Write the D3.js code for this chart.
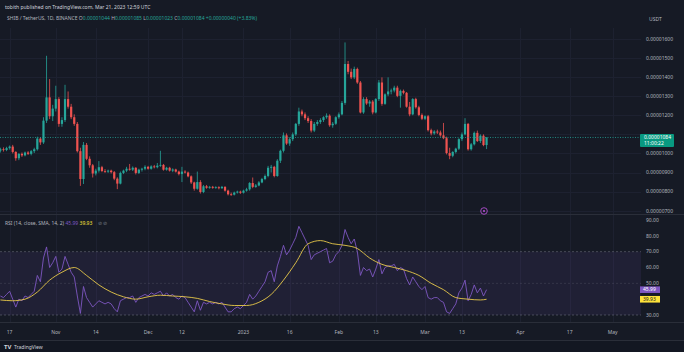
<!DOCTYPE html>
<html><head><meta charset="utf-8">
<script src="https://cdn.jsdelivr.net/npm/d3@7"></script>
<style>html,body{margin:0;padding:0;background:#161a25;}svg{display:block;font-family:"Noto Sans",Roboto,sans-serif;}</style>
</head><body><svg id="c" width="684" height="352"></svg>
<script>
// ---------- DATA (prices in units of 1e-6 USDT) ----------
const firstDay = Date.UTC(2022, 9, 14);
const open = [10.15,10.22,10.18,10.28,10.36,10.08,9.75,9.98,9.90,10.05,9.98,10.12,10.22,10.78,10.58,11.72,12.94,11.95,12.35,12.85,11.55,11.75,12.85,12.45,11.90,11.55,10.12,8.66,10.45,9.72,9.38,8.95,9.10,9.28,9.08,9.05,9.10,9.02,8.68,8.42,8.98,9.10,9.20,9.15,9.25,8.98,9.15,9.20,9.30,9.20,9.32,9.28,9.36,9.40,9.15,9.25,9.10,9.16,9.05,8.92,9.05,9.00,8.80,8.48,8.15,8.50,7.98,8.28,8.20,8.25,8.20,8.23,8.18,8.25,8.05,7.86,7.84,7.95,8.00,7.94,8.05,8.12,8.45,8.25,8.32,8.48,8.66,8.82,9.25,9.30,8.82,9.62,10.14,10.95,10.52,10.75,11.00,11.55,12.20,12.05,11.85,11.70,11.20,11.55,11.65,11.75,11.90,11.98,11.48,11.56,11.90,12.05,12.65,14.69,14.28,13.99,14.43,13.72,12.15,12.85,12.62,12.72,12.15,12.85,13.72,12.60,13.10,13.25,13.30,13.45,13.02,13.28,13.18,12.45,12.05,12.85,12.42,12.02,11.82,11.95,11.22,11.05,11.15,11.10,10.95,10.80,10.02,9.88,10.08,10.25,10.75,11.00,11.55,10.22,10.48,11.08,10.65,10.93,10.44];
const high = [10.30,10.32,10.35,10.42,10.45,10.12,10.02,10.05,10.10,10.12,10.18,10.30,10.88,10.85,11.90,15.12,13.90,12.55,13.55,12.95,11.90,13.60,13.25,12.60,12.05,11.65,10.30,10.60,10.55,9.85,9.45,9.20,9.60,9.35,9.18,9.15,9.15,9.08,8.75,9.05,9.15,9.30,9.45,9.32,9.28,9.20,9.25,9.38,9.35,9.38,9.40,9.50,10.14,9.45,9.30,9.30,9.22,9.20,9.10,9.30,9.12,9.05,8.85,8.52,9.05,8.60,8.35,8.35,8.30,8.30,8.28,8.28,8.30,8.28,8.10,7.95,8.00,8.05,8.05,8.10,8.20,8.50,8.74,8.40,8.55,8.72,8.90,9.35,9.40,9.35,9.70,10.20,11.10,11.05,10.85,11.10,11.60,12.40,12.30,12.15,11.95,11.80,11.65,11.75,11.85,11.95,12.10,12.05,11.65,11.95,12.15,12.75,15.82,14.85,14.45,14.55,14.50,13.80,12.95,12.95,12.80,12.80,12.90,13.85,13.99,13.15,13.99,13.40,13.55,13.55,13.35,13.35,13.22,12.70,12.90,12.92,12.50,12.10,12.00,12.02,11.30,11.22,11.25,11.20,11.60,10.88,10.30,10.12,10.30,10.80,11.10,11.85,11.60,10.55,11.15,11.20,11.00,11.00,10.85];
const low = [10.05,10.10,10.12,10.20,10.00,9.62,9.65,9.82,9.85,9.92,9.90,10.02,10.15,10.45,10.50,11.60,11.80,11.70,12.20,11.40,11.40,11.65,12.35,11.80,11.45,10.05,8.30,8.40,9.65,9.25,8.74,8.85,9.00,9.02,8.98,8.98,8.95,8.60,8.13,8.38,8.92,9.02,9.10,9.08,8.90,8.92,9.05,9.12,9.15,9.15,9.22,9.22,9.30,9.10,9.10,9.05,9.02,9.00,8.85,8.50,8.95,8.75,8.40,8.05,8.10,7.90,7.92,8.15,8.15,8.15,8.15,8.12,8.14,8.00,7.80,7.78,7.80,7.90,7.88,7.90,8.00,8.05,8.18,8.20,8.28,8.44,8.60,8.75,9.00,8.75,8.78,9.50,10.05,10.45,10.40,10.65,10.92,11.45,11.95,11.75,11.60,11.10,11.12,11.45,11.55,11.65,11.82,11.40,11.35,11.50,11.82,12.00,12.55,14.15,13.90,13.90,13.65,12.10,12.08,12.55,12.45,12.05,12.10,12.75,12.50,12.55,13.00,13.10,13.20,12.95,12.40,13.10,12.40,11.95,12.00,12.35,11.95,11.75,11.75,11.15,10.95,10.98,11.02,10.88,10.75,9.95,9.70,9.80,10.00,10.18,10.65,10.95,10.15,10.15,10.42,10.60,10.55,10.38,10.23];
const close = [10.22,10.18,10.28,10.36,10.08,9.75,9.98,9.90,10.05,9.98,10.12,10.22,10.78,10.58,11.72,12.94,11.95,12.35,12.85,11.55,11.75,12.85,12.45,11.90,11.55,10.12,8.66,10.45,9.72,9.38,8.95,9.10,9.28,9.08,9.05,9.10,9.02,8.68,8.42,8.98,9.10,9.20,9.15,9.25,8.98,9.15,9.20,9.30,9.20,9.32,9.28,9.36,9.40,9.15,9.25,9.10,9.16,9.05,8.92,9.05,9.00,8.80,8.48,8.15,8.50,7.98,8.28,8.20,8.25,8.20,8.23,8.18,8.25,8.05,7.86,7.84,7.95,8.00,7.94,8.05,8.12,8.45,8.25,8.32,8.48,8.66,8.82,9.25,9.30,8.82,9.62,10.14,10.95,10.52,10.75,11.00,11.55,12.20,12.05,11.85,11.70,11.20,11.55,11.65,11.75,11.90,11.98,11.48,11.56,11.90,12.05,12.65,14.69,14.28,13.99,14.43,13.72,12.15,12.85,12.62,12.72,12.15,12.85,13.72,12.60,13.10,13.25,13.30,13.45,13.02,13.28,13.18,12.45,12.05,12.85,12.42,12.02,11.82,11.95,11.22,11.05,11.15,11.10,10.95,10.80,10.02,9.88,10.08,10.25,10.75,11.00,11.55,10.22,10.48,11.08,10.65,10.93,10.44,10.84];
const rsi = [42,41,43,45,40,35,40,39,42,41,43,45,55,51,66,73,60,63,67,57,59,67,62,57,54,42,31,48,41,38,35,37,39,38,37,38,37,34,32,39,40,41,41,42,38,41,42,43,42,44,43,44,45,42,44,42,43,41,40,42,41,38,35,32,39,33,38,37,38,37,38,37,38,35,32,32,34,35,34,36,38,43,40,42,45,48,51,57,58,51,61,67,74,68,71,75,79,86,82,78,74,65,68,69,70,71,72,63,64,68,70,74,84,79,75,78,70,55,60,58,59,54,59,65,56,60,61,61,62,58,60,59,53,49,54,51,48,46,48,41,40,41,41,39,38,32,31,34,37,44,47,52,39,43,49,44,47,42,45.99];
const smaDay = [0,4,8,12,16,20,24,28,32,36,40,44,48,52,56,60,64,68,72,76,80,84,88,92,96,100,104,108,112,116,120,124,128,132,136,140,144,148,152,156,158];
const smaValue = [39.5,39,40,44.5,52,57,60,55,49,44.5,41.5,40,41.5,42.5,42,41.5,40.5,38.5,37,36,36,38,43,52,63,75,77,75,74,72,66,62,60,58,55,50,46,41,40,39.5,39.93];
const priceTicks = [16,15,14,13,12,10,9,8,7];
const priceTickLabels = ["0.00001600","0.00001500","0.00001400","0.00001300","0.00001200","0.00001000","0.00000900","0.00000800","0.00000700"];
const rsiTicks = [90,80,70,60,50,30];
const rsiTickLabels = ["90.00","80.00","70.00","60.00","50.00","30.00"];
const timeTickDates = ["2022-10-17","2022-11-01","2022-11-14","2022-12-01","2022-12-12","2023-01-01","2023-01-16","2023-02-01","2023-02-13","2023-03-01","2023-03-13","2023-04-01","2023-04-17","2023-05-01"];
const timeTickLabels = ["17","Nov","14","Dec","12","2023","16","Feb","13","Mar","13","Apr","17","May"];

// ---------- LAYOUT ----------
const DAY = 86400000;
const plotR = 641;
const svg = d3.select("#c");
const C = {bg:"#161a25", grid:"#1d2130", text:"#b2b5be", up:"#26a69a", down:"#ef5350", rsi:"#7e57c2", sma:"#e9c94a"};
const x = d3.scaleUtc().domain([new Date(firstDay), new Date(firstDay + 207*DAY)]).range([0.4, 0.4 + 207*3.077]);
const y = d3.scaleLinear().domain([7, 16]).range([210.7, 39.0]);
const yr = d3.scaleLinear().domain([30, 90]).range([315, 220]);
const dayDate = i => new Date(firstDay + i*DAY);

svg.append("rect").attr("width",684).attr("height",352).attr("fill",C.bg);
svg.append("rect").attr("y",340).attr("width",684).attr("height",12).attr("fill","#131722");

// grid
const gGrid = svg.append("g");
timeTickDates.forEach(s => {
  const xx = Math.round(x(new Date(s+"T00:00:00Z")))+0.5;
  gGrid.append("line").attr("x1",xx).attr("x2",xx).attr("y1",28).attr("y2",322).attr("stroke",C.grid);
});
priceTicks.concat([11]).forEach(v => {
  const yy = Math.round(y(v))+0.5;
  gGrid.append("line").attr("x1",0).attr("x2",plotR).attr("y1",yy).attr("y2",yy).attr("stroke",C.grid);
});

// separators
svg.append("line").attr("x1",0).attr("x2",684).attr("y1",214.5).attr("y2",214.5).attr("stroke","#2a2e39");
svg.append("line").attr("x1",0).attr("x2",684).attr("y1",322.5).attr("y2",322.5).attr("stroke","#2a2e39");
svg.append("line").attr("x1",0).attr("x2",684).attr("y1",340.5).attr("y2",340.5).attr("stroke","#2a2e39");

// header
const hdr = svg.append("g").attr("font-size",5).attr("fill",C.text);
hdr.append("text").attr("x",5).attr("y",9).attr("fill","#d1d4dc").text("tobith published on TradingView.com, Mar 21, 2023 12:59 UTC");
const h2 = hdr.append("text").attr("x",7).attr("y",20);
h2.append("tspan").text("SHIB / TetherUS, 1D, BINANCE  O");
h2.append("tspan").attr("fill",C.up).text("0.00001044 ");
h2.append("tspan").text("H");
h2.append("tspan").attr("fill",C.up).text("0.00001085 ");
h2.append("tspan").text("L");
h2.append("tspan").attr("fill",C.up).text("0.00001023 ");
h2.append("tspan").text("C");
h2.append("tspan").attr("fill",C.up).text("0.00001084 +0.00000040 (+3.83%)");
svg.append("text").attr("x",649).attr("y",21).attr("font-size",5).attr("fill",C.text).text("USDT");

// candles
const gC = svg.append("g");
close.forEach((c, i) => {
  const o = open[i], up = c >= o, col = up ? C.up : C.down;
  const cx = x(dayDate(i));
  gC.append("line").attr("x1",cx).attr("x2",cx).attr("y1",y(high[i])).attr("y2",y(low[i])).attr("stroke",col).attr("stroke-width",0.8);
  const top = y(Math.max(o,c)), bot = y(Math.min(o,c));
  gC.append("rect").attr("x",cx-1.1).attr("width",2.2).attr("y",top).attr("height",Math.max(0.8, bot-top)).attr("fill",col);
});

// current price line + label
const last = close[close.length-1];
svg.append("line").attr("x1",0).attr("x2",plotR).attr("y1",y(last)).attr("y2",y(last)).attr("stroke",C.up).attr("stroke-width",0.8).attr("stroke-dasharray","1,1.5");

// price axis labels
const gA = svg.append("g").attr("font-size",5).attr("fill",C.text);
priceTicks.forEach((v,i) => {
  gA.append("text").attr("x",646).attr("y",y(v)+1.8).text(priceTickLabels[i]);
});
svg.append("rect").attr("x",640).attr("y",y(last)-3.5).attr("width",34).attr("height",13).attr("rx",1).attr("fill","#089981");
svg.append("text").attr("x",644).attr("y",y(last)+1.8).attr("font-size",5).attr("fill","#fff").text("0.00001084");
svg.append("text").attr("x",644).attr("y",y(last)+7.3).attr("font-size",5).attr("fill","#fff").text("11:00:22");

// event icon
svg.append("circle").attr("cx",484).attr("cy",211).attr("r",3.3).attr("fill","none").attr("stroke","#b04fd0").attr("stroke-width",0.9);
svg.append("circle").attr("cx",484).attr("cy",211).attr("r",1.1).attr("fill","#b04fd0");

// RSI pane
svg.append("rect").attr("x",0).attr("y",yr(70)).attr("width",plotR).attr("height",yr(30)-yr(70)).attr("fill","rgba(126,87,194,0.1)");
[70,50,30].forEach(v => {
  svg.append("line").attr("x1",0).attr("x2",plotR).attr("y1",yr(v)).attr("y2",yr(v)).attr("stroke","#787b86").attr("stroke-opacity",v===50?0.35:0.7).attr("stroke-width",0.7).attr("stroke-dasharray","2,2");
});
const rsiLine = d3.line().x((d,i)=>x(dayDate(i))).y(d=>yr(d));
svg.append("path").datum(rsi).attr("d",rsiLine).attr("fill","none").attr("stroke",C.rsi).attr("stroke-width",0.9);
const smaLine = d3.line().x((d,i)=>x(dayDate(smaDay[i]))).y(d=>yr(d)).curve(d3.curveMonotoneX);
svg.append("path").datum(smaValue).attr("d",smaLine).attr("fill","none").attr("stroke",C.sma).attr("stroke-width",0.9);

const gR = svg.append("g").attr("font-size",5).attr("fill",C.text);
rsiTicks.forEach((v,i) => gR.append("text").attr("x",646).attr("y",yr(v)+1.8).text(rsiTickLabels[i]));
const rLast = rsi[rsi.length-1], sLast = smaValue[smaValue.length-1];
svg.append("rect").attr("x",640).attr("y",yr(rLast)-3.3).attr("width",20).attr("height",6.6).attr("fill",C.rsi);
svg.append("text").attr("x",643).attr("y",yr(rLast)+1.8).attr("font-size",5).attr("fill","#fff").text(rLast.toFixed(2));
svg.append("rect").attr("x",640).attr("y",yr(sLast)-3.3).attr("width",20).attr("height",6.6).attr("fill","#fde23a");
svg.append("text").attr("x",643).attr("y",yr(sLast)+1.8).attr("font-size",5).attr("fill","#131722").text(sLast.toFixed(2));

const rh = svg.append("text").attr("x",5).attr("y",224.5).attr("font-size",5).attr("fill",C.text);
rh.append("tspan").text("RSI (14, close, SMA, 14, 2) ");
rh.append("tspan").attr("fill",C.rsi).text(rLast.toFixed(2)+" ");
rh.append("tspan").attr("fill","#fde23a").text(sLast.toFixed(2));
svg.append("text").attr("x",98).attr("y",224.5).attr("font-size",5).attr("fill","#787b86").text("⊘  ⊘");

// time axis
const gT = svg.append("g").attr("font-size",5).attr("fill",C.text).attr("text-anchor","middle");
timeTickDates.forEach((s,i) => {
  gT.append("text").attr("x",x(new Date(s+"T00:00:00Z"))).attr("y",333.5).text(timeTickLabels[i]);
});

// footer
svg.append("text").attr("x",4).attr("y",348.5).attr("font-size",6).attr("font-weight","bold").attr("fill","#d1d4dc").text("TV");
svg.append("text").attr("x",14).attr("y",348.5).attr("font-size",5).attr("fill","#d1d4dc").text("TradingView");
</script></body></html>
